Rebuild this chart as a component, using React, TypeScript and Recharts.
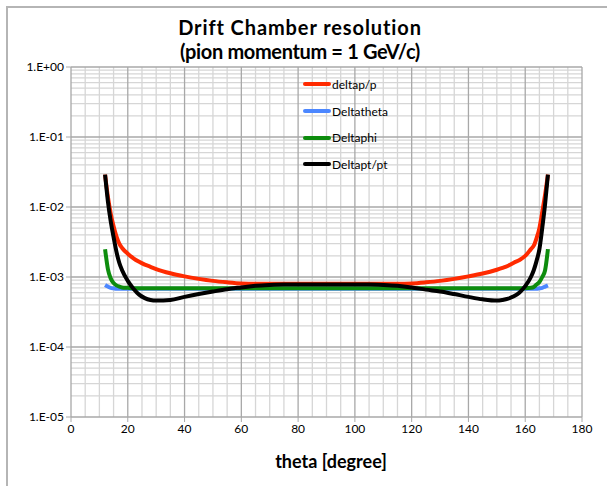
import { LineChart, Line, XAxis, YAxis, ReferenceLine } from "recharts";

// theta [degree]
const theta = [
  12, 13, 14, 15, 16, 17, 18, 20, 22, 24, 26, 28, 30, 35, 40, 45, 50, 55, 60, 65, 70, 75, 80, 85, 90,
  95, 100, 105, 110, 115, 120, 125, 130, 135, 140, 145, 150, 152, 154, 156, 158, 160, 162, 163, 164,
  165, 166, 167, 168,
];

const deltapP = [
  2.9e-2, 1.4e-2, 8e-3, 5.3e-3, 3.8e-3, 3.0e-3, 2.6e-3, 2.15e-3, 1.85e-3, 1.65e-3, 1.5e-3, 1.4e-3, 1.3e-3,
  1.13e-3, 1.02e-3, 9.4e-4, 8.8e-4, 8.4e-4, 8.1e-4, 8.0e-4, 8.0e-4, 8.0e-4, 8.0e-4, 8.0e-4, 8.0e-4,
  8.0e-4, 8.0e-4, 8.0e-4, 8.0e-4, 8.0e-4, 8.1e-4, 8.4e-4, 8.8e-4, 9.4e-4, 1.02e-3, 1.12e-3, 1.27e-3,
  1.35e-3, 1.45e-3, 1.6e-3, 1.75e-3, 2.0e-3, 2.5e-3, 2.8e-3, 3.6e-3, 5.0e-3, 8.5e-3, 1.5e-2, 2.9e-2,
];

const deltaTheta = [
  7.7e-4, 7.3e-4, 7.0e-4, 6.9e-4, 6.8e-4, 6.8e-4, 6.8e-4, 6.8e-4, 6.8e-4, 6.8e-4, 6.8e-4, 6.8e-4, 6.8e-4,
  6.8e-4, 6.8e-4, 6.8e-4, 6.8e-4, 6.8e-4, 6.8e-4, 6.8e-4, 6.8e-4, 6.8e-4, 6.8e-4, 6.8e-4, 6.8e-4,
  6.8e-4, 6.8e-4, 6.8e-4, 6.8e-4, 6.8e-4, 6.8e-4, 6.8e-4, 6.8e-4, 6.8e-4, 6.8e-4, 6.8e-4, 6.8e-4,
  6.8e-4, 6.8e-4, 6.8e-4, 6.8e-4, 6.8e-4, 6.8e-4, 6.8e-4, 6.8e-4, 6.9e-4, 7.0e-4, 7.3e-4, 7.6e-4,
];

const deltaPhi = [
  2.5e-3, 1.3e-3, 9.5e-4, 8.2e-4, 7.6e-4, 7.3e-4, 7.1e-4, 7.0e-4, 6.9e-4, 6.9e-4, 6.9e-4, 6.9e-4, 6.9e-4,
  6.9e-4, 6.9e-4, 6.9e-4, 6.9e-4, 6.9e-4, 6.9e-4, 6.9e-4, 6.9e-4, 6.9e-4, 6.9e-4, 6.9e-4, 6.9e-4,
  6.9e-4, 6.9e-4, 6.9e-4, 6.9e-4, 6.9e-4, 6.9e-4, 6.9e-4, 6.9e-4, 6.9e-4, 6.9e-4, 6.9e-4, 6.9e-4,
  6.9e-4, 6.9e-4, 6.9e-4, 6.9e-4, 6.9e-4, 7.0e-4, 7.2e-4, 7.8e-4, 8.5e-4, 1.0e-3, 1.25e-3, 2.5e-3,
];

const deltaPtPt = [
  2.9e-2, 1.2e-2, 6.2e-3, 3.7e-3, 2.3e-3, 1.6e-3, 1.25e-3, 8.8e-4, 6.8e-4, 5.6e-4, 5.0e-4, 4.7e-4, 4.6e-4,
  4.7e-4, 5.2e-4, 5.7e-4, 6.2e-4, 6.7e-4, 7.1e-4, 7.5e-4, 7.7e-4, 7.8e-4, 7.8e-4, 7.8e-4, 7.8e-4,
  7.8e-4, 7.8e-4, 7.8e-4, 7.7e-4, 7.5e-4, 7.1e-4, 6.6e-4, 6.2e-4, 5.7e-4, 5.2e-4, 4.8e-4, 4.6e-4,
  4.7e-4, 4.9e-4, 5.3e-4, 6.0e-4, 7.4e-4, 1.0e-3, 1.25e-3, 1.7e-3, 2.5e-3, 5.0e-3, 1.1e-2, 2.9e-2,
];

const series = [
  { key: "deltap", name: "deltap/p", color: "#ff2a00" },
  { key: "dtheta", name: "Deltatheta", color: "#4c87ff" },
  { key: "dphi", name: "Deltaphi", color: "#0d8c0d" },
  { key: "dpt", name: "Deltapt/pt", color: "#000000" },
];

const xTicks = [0, 20, 40, 60, 80, 100, 120, 140, 160, 180];
const yTicks = [1e-5, 1e-4, 1e-3, 1e-2, 1e-1, 1];
const yTickLabels = ["1.E-05", "1.E-04", "1.E-03", "1.E-02", "1.E-01", "1.E+00"];

// grid lines (Excel-like major + minor)
const xMinor: number[] = [];
for (let v = 5; v < 180; v += 5) if (v % 20 !== 0) xMinor.push(v);
const xMajor = [20, 40, 60, 80, 100, 120, 140, 160, 180];
const yMinor: number[] = [];
for (const d of [1e-5, 1e-4, 1e-3, 1e-2, 1e-1]) for (let k = 2; k <= 9; k++) yMinor.push(k * d);
const yMajor = [1e-4, 1e-3, 1e-2, 1e-1, 1];

const data = theta.map((t, i) => ({
  theta: t,
  deltap: deltapP[i],
  dtheta: deltaTheta[i],
  dphi: deltaPhi[i],
  dpt: deltaPtPt[i],
}));

const FONT = "Lato, 'Open Sans', sans-serif";

function LegendBox() {
  return (
    <div style={{ position: "absolute", left: 303, top: 71, fontFamily: FONT, fontSize: 12, color: "#000" }}>
      {series.map((s) => (
        <div key={s.key} style={{ display: "flex", alignItems: "center", height: 26.7 }}>
          <div style={{ width: 28, height: 4, background: s.color, borderRadius: 2, marginRight: 1 }} />
          <span>{s.name}</span>
        </div>
      ))}
    </div>
  );
}

export default function App() {
  return (
    <div style={{ position: "absolute", left: 0, top: 0, width: 607, height: 486, overflow: "hidden", background: "#fff" }}>
      <div
        style={{
          position: "absolute",
          left: 6,
          top: 6,
          width: 700,
          height: 600,
          borderLeft: "2px solid #b5b5b5",
          borderTop: "2px solid #b5b5b5",
        }}
      />
      <div
        style={{
          position: "absolute",
          left: 0,
          width: 600,
          top: 15,
          textAlign: "center",
          fontFamily: FONT,
          fontWeight: 700,
          fontSize: 20,
          lineHeight: "24px",
          color: "#000",
        }}
      >
        <div style={{ letterSpacing: 0.9 }}>Drift Chamber resolution</div>
        <div style={{ letterSpacing: -0.35 }}>(pion momentum = 1 GeV/c)</div>
      </div>
      <div
        style={{
          position: "absolute",
          left: 71,
          width: 520,
          top: 450,
          textAlign: "center",
          fontFamily: FONT,
          fontWeight: 700,
          fontSize: 18,
          lineHeight: "22px",
          color: "#000",
        }}
      >
        theta [degree]
      </div>
      <div style={{ position: "absolute", left: 0, top: 0 }}>
        <LineChart width={607} height={486} data={data} margin={{ top: 67, right: 25, bottom: 39, left: 11 }}>
          {xMinor.map((v) => (
            <ReferenceLine key={"xm" + v} x={v} stroke="#d6d6d6" strokeWidth={1.3} />
          ))}
          {yMinor.map((v) => (
            <ReferenceLine key={"ym" + v} y={v} stroke="#d6d6d6" strokeWidth={1.3} />
          ))}
          {xMajor.map((v) => (
            <ReferenceLine key={"xM" + v} x={v} stroke="#a8a8a8" strokeWidth={1.3} />
          ))}
          {yMajor.map((v) => (
            <ReferenceLine key={"yM" + v} y={v} stroke="#a8a8a8" strokeWidth={1.3} />
          ))}
          <XAxis
            dataKey="theta"
            type="number"
            domain={[0, 180]}
            ticks={xTicks}
            height={30}
            axisLine={{ stroke: "#a8a8a8", strokeWidth: 1.3 }}
            tickLine={{ stroke: "#a8a8a8" }}
            tickSize={5}
            tick={{ fill: "#000", fontSize: 12, fontFamily: FONT }}
            interval={0}
          />
          <YAxis
            type="number"
            scale="log"
            domain={[1e-5, 1]}
            allowDataOverflow
            ticks={yTicks}
            width={60}
            axisLine={{ stroke: "#a8a8a8", strokeWidth: 1.3 }}
            tickLine={{ stroke: "#a8a8a8" }}
            tickSize={5}
            tick={{ fill: "#000", fontSize: 12, fontFamily: FONT }}
            tickFormatter={(v: number) => yTickLabels[yTicks.indexOf(v)] ?? ""}
            interval={0}
          />
          {series.map((s) => (
            <Line
              key={s.key}
              dataKey={s.key}
              name={s.name}
              type="monotone"
              stroke={s.color}
              strokeWidth={4}
              dot={false}
              isAnimationActive={false}
            />
          ))}
        </LineChart>
      </div>
      <LegendBox />
    </div>
  );
}
